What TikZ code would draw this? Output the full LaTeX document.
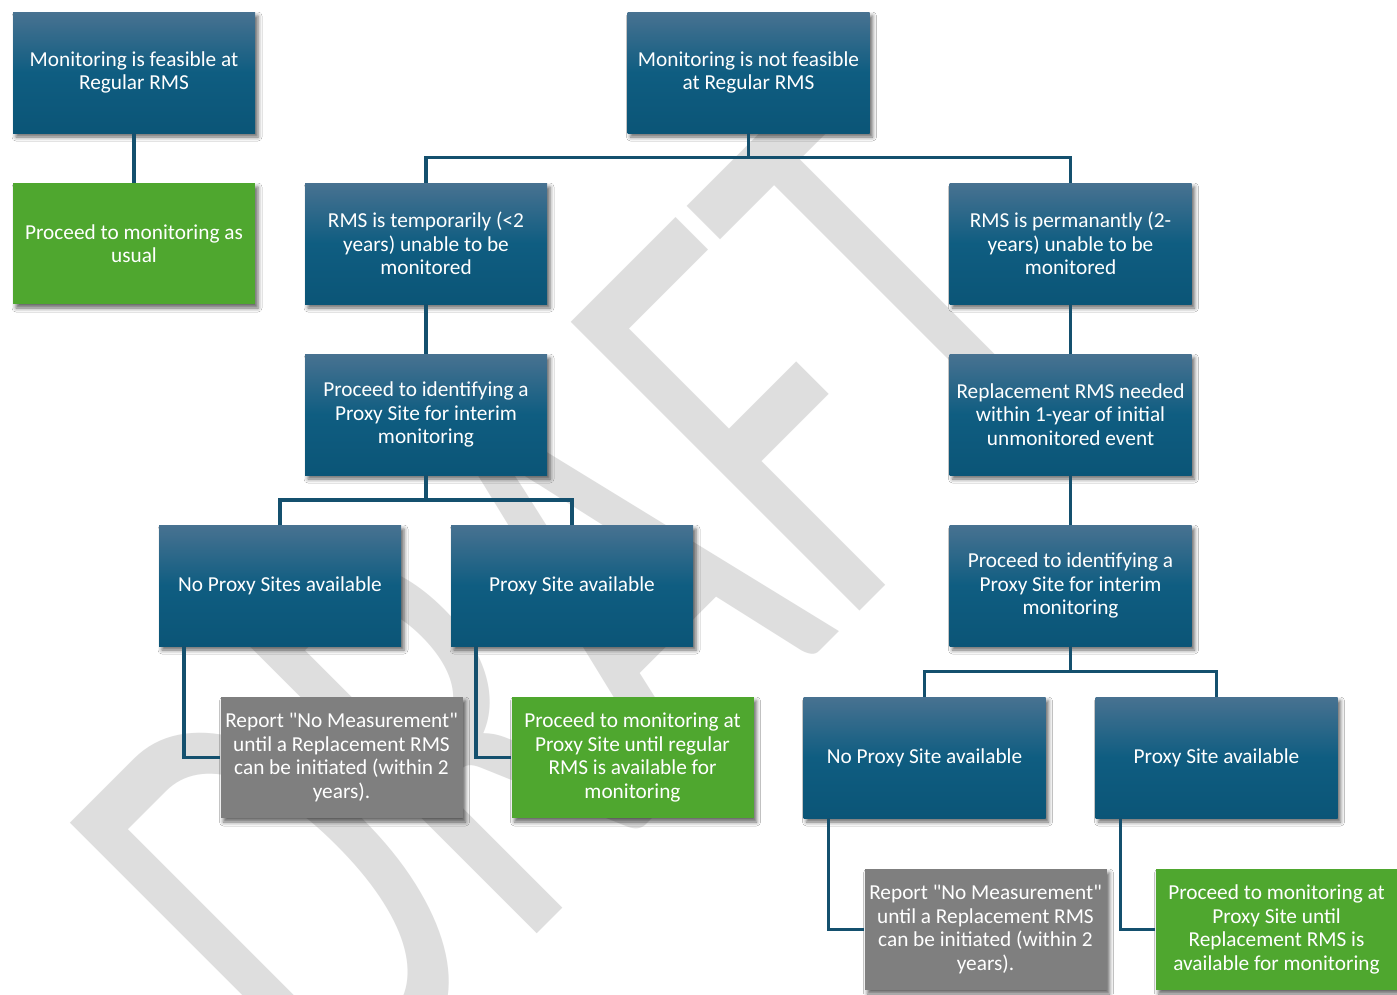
\documentclass[tikz,border=0pt]{standalone}
\usepackage{fontspec}
\usepackage{graphicx}
\newfontfamily\boxfont{Carlito}
\usetikzlibrary{shadows.blur}
\definecolor{bluetop}{RGB}{72,114,145}
\definecolor{bluemid}{RGB}{15,93,129}
\definecolor{bluebot}{RGB}{11,85,119}
\definecolor{boxgreen}{RGB}{79,167,47}
\definecolor{boxgray}{RGB}{127,127,127}
\definecolor{conncol}{RGB}{20,80,110}
\definecolor{wmark}{RGB}{222,222,222}
\begin{document}
\begin{tikzpicture}[x=1pt,y=-1pt,
  box/.style={minimum width=242pt,minimum height=121pt,inner sep=0pt,align=center,text=white,
    font=\boxfont\fontsize{21.3}{23.5}\selectfont,
    blur shadow={shadow xshift=3pt,shadow yshift=-4pt,shadow blur radius=4pt,shadow opacity=60}},
  bluebox/.style={box,top color=bluetop,bottom color=bluebot,middle color=bluemid},
  greenbox/.style={box,fill=boxgreen},
  graybox/.style={box,fill=boxgray},
  conn/.style={draw=conncol,line width=3.5pt}]
\useasboundingbox (0,0) rectangle (1397,994);
\clip (0,0) rectangle (1397,994);
\fill[white] (0,0) rectangle (1397,994);
% watermark
\node[anchor=base west,rotate=45,text=wmark,inner sep=0pt,font=\boxfont\fontsize{408}{408}\selectfont] (wm) at (339,1132) {\scalebox{1}[1.56]{DRAFT}};
% boxes
\node[bluebox] (A) at (134,72.5) {Monitoring is feasible at\\Regular RMS};
\node[greenbox] (B) at (134,243.5) {Proceed to monitoring as\\usual};
\node[bluebox] (C) at (748.5,72.5) {Monitoring is not feasible\\at Regular RMS};
\node[bluebox] (D) at (426,243.5) {RMS is temporarily (<2\\years) unable to be\\monitored};
\node[bluebox] (E) at (1070.5,243.5) {RMS is permanantly (2-\\years) unable to be\\monitored};
\node[bluebox] (F) at (426,414.5) {Proceed to identifying a\\Proxy Site for interim\\monitoring};
\node[bluebox] (G) at (1070.5,414.5) {Replacement RMS needed\\within 1-year of initial\\unmonitored event};
\node[bluebox] (H) at (280,585.5) {No Proxy Sites available};
\node[bluebox] (I) at (572,585.5) {Proxy Site available};
\node[bluebox] (L) at (1070.5,585.5) {Proceed to identifying a\\Proxy Site for interim\\monitoring};
\node[bluebox] (M) at (924.5,757.5) {No Proxy Site available};
\node[bluebox] (N) at (1216.5,757.5) {Proxy Site available};
% connectors
\draw[conn] (A.south) -- (B.north);
\draw[conn] (C.south) -- ++(0,24.5) -| (D.north);
\draw[conn] (C.south) -- ++(0,24.5) -| (E.north);
\draw[conn] (D.south) -- (F.north);
\draw[conn] (E.south) -- (G.north);
\draw[conn] (G.south) -- (L.north);
\draw[conn] (F.south) -- ++(0,25) -| (H.north);
\draw[conn] (F.south) -- ++(0,25) -| (I.north);
\draw[conn] (L.south) -- ++(0,25.5) -| (M.north);
\draw[conn] (L.south) -- ++(0,25.5) -| (N.north);
% result boxes
\node[graybox] (J) at (341.5,757.5) {Report "No Measurement"\\until a Replacement RMS\\can be initiated (within 2\\years).};
\node[greenbox] (K) at (632.5,757.5) {Proceed to monitoring at\\Proxy Site until regular\\RMS is available for\\monitoring};
\node[graybox] (O) at (985.5,929.5) {Report "No Measurement"\\until a Replacement RMS\\can be initiated (within 2\\years).};
\node[greenbox] (P) at (1276.5,929.5) {Proceed to monitoring at\\Proxy Site until\\Replacement RMS is\\available for monitoring};
\draw[conn] ([xshift=25pt]H.south west) |- (J.west);
\draw[conn] ([xshift=25pt]I.south west) |- (K.west);
\draw[conn] ([xshift=25pt]M.south west) |- (O.west);
\draw[conn] ([xshift=25pt]N.south west) |- (P.west);
\end{tikzpicture}
\end{document}
